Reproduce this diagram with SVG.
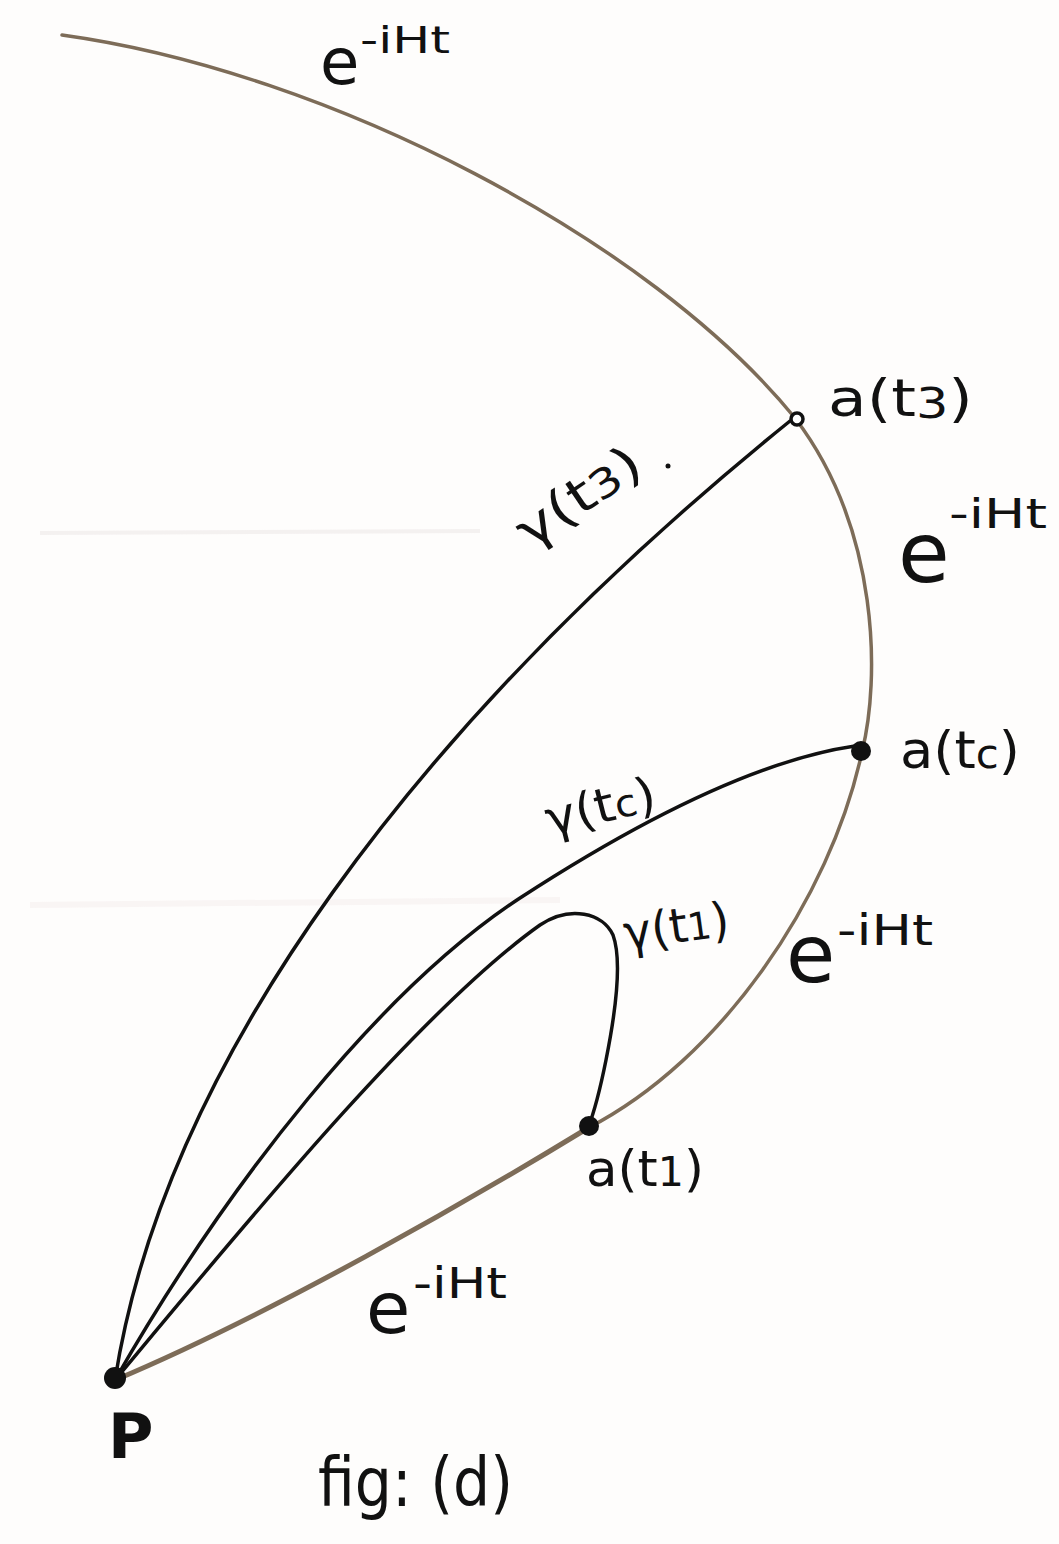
<svg xmlns="http://www.w3.org/2000/svg" width="1059" height="1544" viewBox="0 0 1059 1544">
<style>
.lbl{font-family:"DejaVu Sans","Liberation Sans",sans-serif;fill:#111;}
.curve{fill:none;stroke:#111;stroke-width:3.5;stroke-linecap:round;stroke-linejoin:round;}
.flow{fill:none;stroke:#7d6c58;stroke-linecap:round;}
.dot{fill:#111;}
</style>
<rect x="0" y="0" width="1059" height="1544" fill="#fefdfc"/>
<g id="paper-marks" opacity="0.4">
<path d="M40 533 L480 531" stroke="#e6dede" stroke-width="4" fill="none"/>
<path d="M30 905 L560 900" stroke="#f3e8e8" stroke-width="6" fill="none"/>
</g>
<g id="connectors">
<path id="orbit" class="flow" stroke-width="3.5" d="M62 35 C330 72 650 240 795 418 C880 530 880 680 862 752 C830 900 720 1060 588 1128"/>
<path id="orbit-low" class="flow" stroke-width="5" d="M588 1128 C470 1200 270 1315 115 1380"/>
<path id="gamma-t3" class="curve" d="M115 1380 C165 1060 420 720 790 421"/>
<path id="gamma-tc" class="curve" d="M115 1380 C230 1180 380 990 520 898 C640 820 760 760 855 746"/>
<path id="gamma-t1" class="curve" d="M115 1380 C240 1230 420 1010 540 925 C570 905 603 913 613 935 C624 965 612 1030 606 1060 C600 1090 595 1110 588 1128"/>
</g>
<g id="node-P">
<circle class="dot" cx="115" cy="1378" r="11"/>
<text class="lbl" x="108" y="1458" font-size="62" font-weight="bold">P</text>
</g>
<g id="node-a-t3">
<circle cx="797" cy="419" r="6" fill="#fff" stroke="#111" stroke-width="3.5"/>
<text class="lbl" x="828" y="416" font-size="52" textLength="145" lengthAdjust="spacingAndGlyphs">a(t<tspan font-size="42" dy="2">3</tspan><tspan dy="-2">)</tspan></text>
</g>
<g id="node-a-tc">
<circle class="dot" cx="861" cy="751" r="10"/>
<text class="lbl" x="900" y="768" font-size="52" textLength="120" lengthAdjust="spacingAndGlyphs">a(t<tspan font-size="40">c</tspan>)</text>
</g>
<g id="node-a-t1">
<circle class="dot" cx="589" cy="1126" r="10"/>
<text class="lbl" x="586" y="1186" font-size="50" textLength="118" lengthAdjust="spacingAndGlyphs">a(t<tspan font-size="40">1</tspan>)</text>
</g>
<g id="labels">
<text class="lbl" x="320" y="84" font-size="64">e</text>
<text class="lbl" x="360" y="53" font-size="38" textLength="90" lengthAdjust="spacingAndGlyphs">-iHt</text>
<text class="lbl" x="898" y="582" font-size="84">e</text>
<text class="lbl" x="949" y="528" font-size="40" textLength="98" lengthAdjust="spacingAndGlyphs">-iHt</text>
<text class="lbl" x="786" y="982" font-size="80">e</text>
<text class="lbl" x="837" y="945" font-size="42" textLength="96" lengthAdjust="spacingAndGlyphs">-iHt</text>
<text class="lbl" x="366" y="1333" font-size="72">e</text>
<text class="lbl" x="413" y="1298" font-size="42" textLength="94" lengthAdjust="spacingAndGlyphs">-iHt</text>
<text class="lbl" font-size="50" transform="translate(530 550) rotate(-34)" textLength="140" lengthAdjust="spacingAndGlyphs">γ(t<tspan font-size="40">3</tspan>)</text>
<circle cx="668" cy="466" r="2.5" fill="#111"/>
<text class="lbl" font-size="48" transform="translate(550 836) rotate(-14)" textLength="112" lengthAdjust="spacingAndGlyphs">γ(t<tspan font-size="38">c</tspan>)</text>
<text class="lbl" font-size="48" transform="translate(626 950) rotate(-8)" textLength="106" lengthAdjust="spacingAndGlyphs">γ(t<tspan font-size="38">1</tspan>)</text>
<text class="lbl" x="318" y="1506" font-size="68" textLength="195" lengthAdjust="spacingAndGlyphs">fig: (d)</text>
</g>
</svg>
